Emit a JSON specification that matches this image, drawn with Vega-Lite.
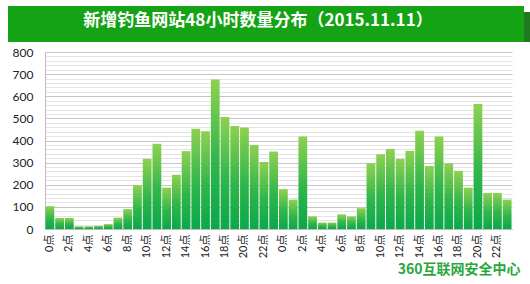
{
  "$schema": "https://vega.github.io/schema/vega-lite/v6.json",
  "padding": {"left": 8, "top": 6, "right": 0, "bottom": 0},
  "background": "white",
  "spacing": 4,
  "config": {"view": {"stroke": null}},
  "vconcat": [
    {
      "width": 516,
      "height": 36,
      "data": {"values": [{"title": "新增钓鱼网站48小时数量分布（2015.11.11）"}]},
      "layer": [
        {"mark": {"type": "rect", "color": "#1f7a1f", "xOffset": 6, "yOffset": 6}, "encoding": {}},
        {"mark": {"type": "rect", "color": "#14a314", "x2Offset": -4, "y2Offset": -6}, "encoding": {}},
        {
          "mark": {"type": "text", "color": "white", "fontSize": 17, "fontWeight": "bold", "font": "Noto Sans CJK SC", "baseline": "middle", "align": "center", "dx": -8, "dy": -3},
          "encoding": {"text": {"field": "title"}}
        }
      ]
    },
    {
      "width": 504,
      "height": 177,
      "data": {"values": [
        {"slot": "D1 0", "count": 103}, {"slot": "D1 1", "count": 50}, {"slot": "D1 2", "count": 50}, {"slot": "D1 3", "count": 12},
        {"slot": "D1 4", "count": 12}, {"slot": "D1 5", "count": 14}, {"slot": "D1 6", "count": 22}, {"slot": "D1 7", "count": 51},
        {"slot": "D1 8", "count": 90}, {"slot": "D1 9", "count": 198}, {"slot": "D1 10", "count": 317}, {"slot": "D1 11", "count": 385},
        {"slot": "D1 12", "count": 187}, {"slot": "D1 13", "count": 245}, {"slot": "D1 14", "count": 352}, {"slot": "D1 15", "count": 453},
        {"slot": "D1 16", "count": 442}, {"slot": "D1 17", "count": 676}, {"slot": "D1 18", "count": 506}, {"slot": "D1 19", "count": 466},
        {"slot": "D1 20", "count": 459}, {"slot": "D1 21", "count": 380}, {"slot": "D1 22", "count": 303}, {"slot": "D1 23", "count": 350},
        {"slot": "D2 0", "count": 180}, {"slot": "D2 1", "count": 133}, {"slot": "D2 2", "count": 418}, {"slot": "D2 3", "count": 57},
        {"slot": "D2 4", "count": 29}, {"slot": "D2 5", "count": 29}, {"slot": "D2 6", "count": 66}, {"slot": "D2 7", "count": 57},
        {"slot": "D2 8", "count": 94}, {"slot": "D2 9", "count": 297}, {"slot": "D2 10", "count": 338}, {"slot": "D2 11", "count": 362},
        {"slot": "D2 12", "count": 317}, {"slot": "D2 13", "count": 353}, {"slot": "D2 14", "count": 444}, {"slot": "D2 15", "count": 285},
        {"slot": "D2 16", "count": 418}, {"slot": "D2 17", "count": 296}, {"slot": "D2 18", "count": 263}, {"slot": "D2 19", "count": 187},
        {"slot": "D2 20", "count": 565}, {"slot": "D2 21", "count": 163}, {"slot": "D2 22", "count": 163}, {"slot": "D2 23", "count": 133}
      ]},
      "mark": {
        "type": "bar",
        "color": {"gradient": "linear", "x1": 0, "y1": 1, "x2": 0, "y2": 0,
          "stops": [{"offset": 0, "color": "#0aa84b"}, {"offset": 0.45, "color": "#2fb64a"}, {"offset": 1, "color": "#8ed150"}]}
      },
      "encoding": {
        "x": {
          "field": "slot", "type": "ordinal", "sort": null,
          "scale": {"range": [37, 504], "paddingInner": 0.1, "paddingOuter": 0.05},
          "axis": {
            "labelExpr": "toNumber(slice(datum.value, 3)) % 2 === 0 ? slice(datum.value, 3) + '点' : ''",
            "labelAngle": -90, "labelAlign": "right", "labelBaseline": "middle",
            "labelFont": "Lato, Noto Sans CJK SC", "labelFontSize": 11, "labelColor": "#222",
            "labelPadding": 5, "ticks": false, "domain": true, "domainColor": "#bdbdbd",
            "title": "360互联网安全中心", "titleAnchor": "end", "titleAlign": "right", "titleX": 512, "titleY": 40,
            "titleBaseline": "middle", "titleColor": "#2aa73c", "titleFontSize": 14,
            "titleFontWeight": "bold", "titleFont": "Noto Sans CJK SC"
          }
        },
        "y": {
          "field": "count", "type": "quantitative",
          "scale": {"domain": [0, 800], "nice": false},
          "axis": {
            "title": null, "offset": -37,
            "values": [0,20,40,60,80,100,120,140,160,180,200,220,240,260,280,300,320,340,360,380,400,420,440,460,480,500,520,540,560,580,600,620,640,660,680,700,720,740,760,780,800],
            "labelExpr": "datum.value % 100 === 0 ? datum.label : ''",
            "gridColor": {"condition": {"test": "datum.value % 100 === 0", "value": "#c6c6c6"}, "value": "#e4e4e4"},
            "ticks": false, "domain": true, "domainColor": "#bdbdbd",
            "labelFont": "Lato", "labelFontSize": 12, "labelColor": "#222", "labelPadding": 12
          }
        }
      }
    }
  ]
}
